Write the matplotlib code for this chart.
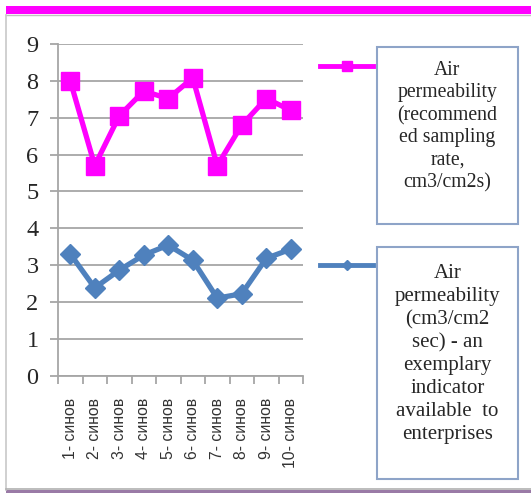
import matplotlib.pyplot as plt
from matplotlib.lines import Line2D
from matplotlib.patches import Rectangle

categories = ["1- синов", "2- синов", "3- синов", "4- синов", "5- синов",
              "6- синов", "7- синов", "8- синов", "9- синов", "10- синов"]
recommended = [8.0, 5.7, 7.05, 7.72, 7.52, 8.08, 5.7, 6.8, 7.52, 7.2]
exemplary = [3.3, 2.38, 2.86, 3.27, 3.54, 3.13, 2.1, 2.22, 3.18, 3.43]
yticks = list(range(10))

label_rec = "Air\npermeability\n(recommend\ned sampling\nrate,\ncm3/cm2s)"
label_exe = ("Air\npermeability\n(cm3/cm2\nsec) - an\nexemplary\nindicator\n"
             "available  to\nenterprises")

magenta = "#FF00FF"
blue = "#4F81BD"
grid_c = "#A6A6A6"
W, H = 531, 494

fig = plt.figure(figsize=(W / 100, H / 100), dpi=100)
ax = fig.add_axes([58 / W, 1 - 375.5 / H, (303 - 58) / W, (375.5 - 44) / H])

x = list(range(1, len(categories) + 1))
ax.plot(x, recommended, color=magenta, lw=3.8, marker="s", ms=13.5,
        zorder=3, clip_on=False)
ax.plot(x, exemplary, color=blue, lw=3.8, marker="D", ms=10,
        zorder=3, clip_on=False)

ax.set_xlim(0.5, len(categories) + 0.5)
ax.set_ylim(0, 9)
ax.set_yticks(yticks)
ax.set_yticklabels([str(v) for v in yticks], fontfamily="Liberation Serif",
                   fontsize=17.5, color="#262626")
ax.yaxis.grid(True, color=grid_c, lw=1.3)
ax.set_axisbelow(True)
ax.tick_params(axis="y", length=6, width=1.3, color=grid_c, pad=8)

ax.set_xticks(x)
ax.set_xticklabels(categories, rotation=90, fontfamily="Liberation Sans",
                   fontsize=11.3, color="#333333")
ax.tick_params(axis="x", which="major", length=0, pad=16)
ax.set_xticks([v + 0.5 for v in range(len(categories) + 1)], minor=True)
ax.tick_params(axis="x", which="minor", length=6, width=1.3, color=grid_c)

for side in ("top", "right"):
    ax.spines[side].set_visible(False)
for side in ("left", "bottom"):
    ax.spines[side].set_color(grid_c)
    ax.spines[side].set_linewidth(1.3)

# legend boxes
def px(xp, yp):
    return xp / W, 1 - yp / H

for (y0, y1, ly, col, mk, ms, text, fs, lsp, ty) in [
        (47, 224, 66, magenta, "s", 7, label_rec, 14.2, 1.24, 61),
        (247, 479, 265, blue, "D", 5, label_exe, 15, 1.28, 264)]:
    bx, by = px(377, y1)
    fig.add_artist(Rectangle((bx, by), (141) / W, (y1 - y0) / H,
                             transform=fig.transFigure, fill=False,
                             ec="#8EA4C8", lw=1.5))
    fig.add_artist(Line2D([320 / W, 373 / W], [1 - ly / H] * 2,
                          transform=fig.transFigure, color=col, lw=3.5))
    fig.add_artist(Line2D([346.5 / W], [1 - ly / H], transform=fig.transFigure,
                          color=col, marker=mk, ms=ms, lw=0))
    tx, tyf = px(447.5, ty)
    fig.text(tx, tyf, text, ha="center", va="top", fontsize=fs,
             fontfamily="Liberation Serif", linespacing=lsp, color="#262626")

# page borders
fig.add_artist(Rectangle((6 / W, 1 - 14 / H), 1, 8 / H,
                         transform=fig.transFigure, color=magenta, lw=0))
fig.add_artist(Line2D([6 / W, 1], [1 - 15 / H] * 2, transform=fig.transFigure,
                      color="#C0C0C0", lw=1))
fig.add_artist(Line2D([6 / W, 6 / W], [1 - 15 / H, 1 - 490 / H],
                      transform=fig.transFigure, color="#C8C8C8", lw=1.2))
fig.add_artist(Rectangle((6 / W, 1 - 493 / H), 1, 3 / H,
                         transform=fig.transFigure, color="#9A7AA6", lw=0))
fig.add_artist(Line2D([6 / W, 1], [1 - 489 / H] * 2, transform=fig.transFigure,
                      color="#B0B0B0", lw=1.2))

fig.savefig("out.png", dpi=100)
